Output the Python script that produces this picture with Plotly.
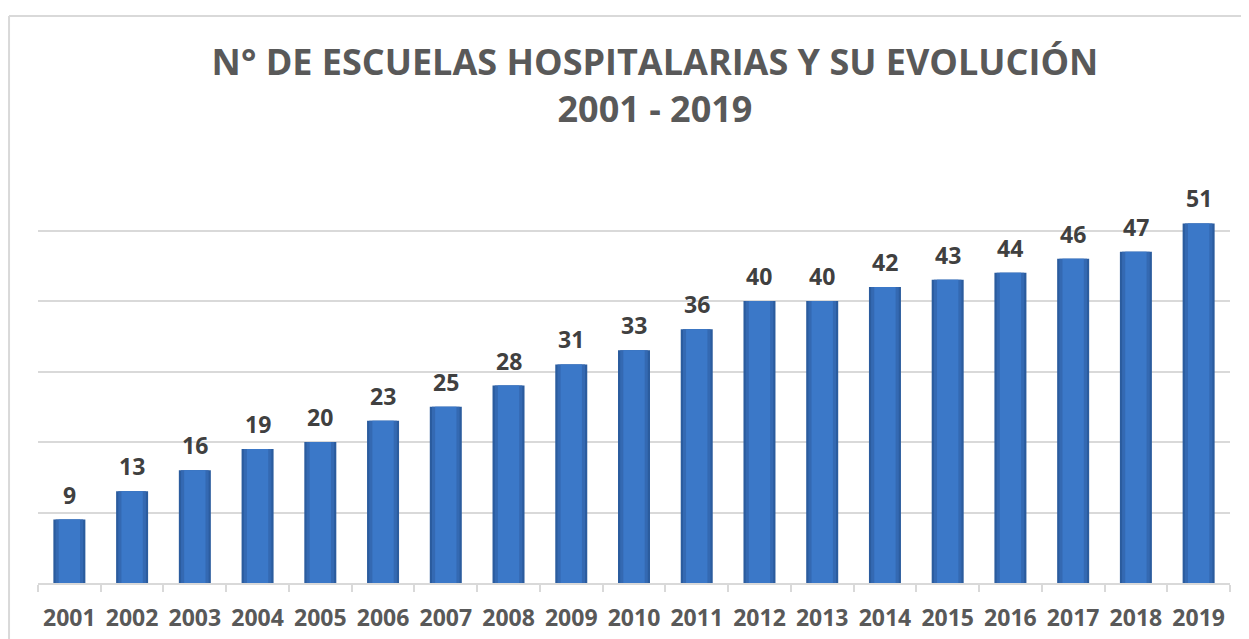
import plotly.graph_objects as go

years = ["2001", "2002", "2003", "2004", "2005", "2006", "2007", "2008", "2009", "2010",
         "2011", "2012", "2013", "2014", "2015", "2016", "2017", "2018", "2019"]
schools = [9, 13, 16, 19, 20, 23, 25, 28, 31, 33, 36, 40, 40, 42, 43, 44, 46, 47, 51]

title_text = "N° DE ESCUELAS HOSPITALARIAS Y SU EVOLUCIÓN<br>2001 - 2019"
FONT = "Open Sans"

W, H = 1241, 631  # page body has an 8px margin

fig = go.Figure()
# layered bars to suggest the gradient shading of the original
fig.add_trace(go.Bar(x=years, y=schools, width=0.51, marker=dict(color="#2B5C9E", line=dict(width=0)),
                     hoverinfo="skip"))
fig.add_trace(go.Bar(x=years, y=schools, width=0.44, marker=dict(color="#3469B2", line=dict(width=0)),
                     hoverinfo="skip"))
fig.add_trace(go.Bar(x=years, y=schools, width=0.34, marker=dict(color="#3B78C8", line=dict(width=0))))

# annotations on a category axis are positioned by category index
annotations = [
    dict(x=i, y=v, xref="x", yref="y", text=f"<b>{v}</b>", showarrow=False,
         yanchor="bottom", yshift=7, font=dict(family=FONT, size=23, color="#404040"))
    for i, v in enumerate(schools)
]

fig.update_layout(
    width=W, height=H,
    margin=dict(l=30, r=19, t=152, b=56),
    paper_bgcolor="white", plot_bgcolor="white",
    barmode="overlay", showlegend=False,
    title=dict(text=f"<b>{title_text}</b>", x=0.5176, xref="paper", xanchor="center",
               y=1 - 67 / H, yref="container", yanchor="middle",
               font=dict(family=FONT, size=36, color="#595959")),
    annotations=annotations,
    shapes=[dict(type="line", xref="paper", yref="paper", x0=-0.0243, x1=1.03, y0=1.3404, y1=1.3404,
                 line=dict(color="#D9D9D9", width=2)),
            dict(type="line", xref="paper", yref="paper", x0=-0.0243, x1=-0.0243, y0=-0.2, y1=1.3404,
                 line=dict(color="#D9D9D9", width=2))],
)
fig.update_xaxes(type="category", range=[-0.5, len(years) - 0.5], showline=True,
                 linecolor="#D9D9D9", linewidth=2, automargin=False,
                 ticks="outside", tickson="boundaries", ticklen=7, tickcolor="#D9D9D9", tickwidth=2,
                 tickfont=dict(family=FONT, size=23, color="#595959"), showgrid=False,
                 tickangle=0, tickprefix="<b>", ticksuffix="</b>", ticklabelstandoff=13)
fig.update_yaxes(range=[0, 60], dtick=10, showticklabels=False, showgrid=True,
                 gridcolor="#D9D9D9", gridwidth=1.5, zeroline=False, automargin=False)

fig.write_html("out.html")
